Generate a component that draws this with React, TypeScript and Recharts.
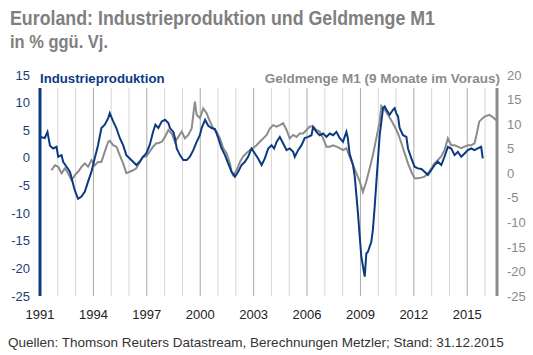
import React from "react";
import { LineChart, Line, XAxis, YAxis, ReferenceLine } from "recharts";

// Industrieproduktion, % ggü. Vj. (linke Achse) – [Jahr, Wert]
const industrieproduktion: [number, number][] = [
  [1991.0, 3.8], [1991.27, 3.6], [1991.42, 4.7], [1991.56, 2.2], [1991.74, 1.7],
  [1991.93, 2.0], [1992.02, 0.2], [1992.21, 0.5], [1992.3, -0.7], [1992.49, -1.6],
  [1992.68, -2.5], [1992.77, -3.6], [1992.92, -5.5], [1993.05, -6.7], [1993.14, -7.4],
  [1993.33, -7.0], [1993.52, -6.1], [1993.7, -4.3], [1993.89, -2.5], [1994.08, 0],
  [1994.26, 2.3], [1994.45, 5.4], [1994.64, 6.0], [1994.83, 7.2], [1994.92, 8.1],
  [1995.11, 6.6], [1995.29, 5.4], [1995.48, 3.6], [1995.67, 2.3], [1995.85, 0.5],
  [1996.04, -0.1], [1996.23, -0.7], [1996.41, -1.3], [1996.6, -0.7], [1996.79, 0.2],
  [1996.97, 0.8], [1997.16, 2.3], [1997.35, 4.7], [1997.48, 6.0], [1997.65, 5.4],
  [1997.84, 6.6], [1998.02, 6.9], [1998.21, 6.3], [1998.3, 5.4], [1998.49, 4.7],
  [1998.58, 3.6], [1998.68, 1.7], [1998.86, 0.5], [1999.05, -0.4], [1999.24, -0.4],
  [1999.42, 0.2], [1999.61, 1.4], [1999.8, 2.9], [1999.98, 4.1], [2000.08, 5.4],
  [2000.27, 6.9], [2000.45, 5.8], [2000.64, 5.4], [2000.83, 5.2], [2001.01, 3.6],
  [2001.2, 1.7], [2001.39, 0.5], [2001.57, -1.0], [2001.76, -2.5], [2001.95, -3.4],
  [2002.13, -2.5], [2002.32, -1.3], [2002.51, -0.7], [2002.69, 0.2], [2002.88, 1.7],
  [2003.07, 0.8], [2003.25, -0.1], [2003.45, -1.3], [2003.63, -0.1], [2003.82, 1.7],
  [2004.01, 2.3], [2004.15, 1.7], [2004.29, 2.9], [2004.47, 3.8], [2004.66, 2.6],
  [2004.85, 1.4], [2005.03, 1.7], [2005.22, 1.1], [2005.31, 0.2], [2005.5, 1.4],
  [2005.69, 2.3], [2005.87, 3.6], [2006.06, 3.8], [2006.25, 4.1], [2006.34, 5.6],
  [2006.53, 4.7], [2006.71, 4.1], [2006.9, 4.4], [2007.09, 3.8], [2007.28, 4.4],
  [2007.46, 4.1], [2007.65, 4.7], [2007.83, 3.6], [2008.02, 2.9], [2008.21, 4.7],
  [2008.29, 3.6], [2008.39, 0.8], [2008.58, -1.3], [2008.68, -3.4], [2008.77, -6.7],
  [2008.86, -10.0], [2008.96, -14.3], [2009.05, -17.9], [2009.24, -21.5], [2009.33, -17.3],
  [2009.42, -17.0], [2009.61, -15.2], [2009.7, -13.0], [2009.8, -8.8], [2009.89, -4.6],
  [2010.08, 4.1], [2010.27, 9.0], [2010.36, 9.3], [2010.46, 8.7], [2010.64, 7.8],
  [2010.83, 8.7], [2010.92, 9.0], [2011.01, 8.1], [2011.11, 7.5], [2011.2, 5.4],
  [2011.39, 4.1], [2011.58, 3.8], [2011.67, 1.7], [2011.86, -0.1], [2012.04, -1.6],
  [2012.23, -1.9], [2012.42, -2.0], [2012.6, -2.5], [2012.79, -3.1], [2012.98, -2.2],
  [2013.16, -1.3], [2013.35, -0.7], [2013.54, -1.3], [2013.72, 0.2], [2013.91, 2.0],
  [2014.1, 1.7], [2014.29, 0.5], [2014.47, 1.1], [2014.66, 0.2], [2014.85, 0.8],
  [2015.03, 1.4], [2015.22, 1.7], [2015.41, 1.4], [2015.59, 1.7], [2015.78, 2.0],
  [2015.87, -0.1],
];

// Geldmenge M1, 9 Monate im Voraus (rechte Achse) – [Jahr, Wert]
const geldmengeM1: [number, number][] = [
  [1991.64, 0.6], [1991.84, 1.6], [1992.02, 1.3], [1992.21, 0], [1992.4, 1.0],
  [1992.58, 0], [1992.77, -1.4], [1992.96, -0.4], [1993.14, 0.3], [1993.33, 1.3],
  [1993.52, 2.0], [1993.7, 1.3], [1993.89, 2.7], [1994.08, 1.6], [1994.26, 2.3],
  [1994.45, 2.3], [1994.64, 4.4], [1994.83, 6.4], [1994.92, 6.6], [1995.11, 5.7],
  [1995.29, 5.4], [1995.48, 3.7], [1995.67, 2.0], [1995.85, 0], [1996.04, 0.3],
  [1996.23, 0.6], [1996.41, 1.0], [1996.6, 2.3], [1996.79, 3.4], [1996.97, 3.4],
  [1997.16, 4.4], [1997.35, 5.4], [1997.53, 6.1], [1997.65, 6.1], [1997.84, 6.4],
  [1998.02, 7.4], [1998.21, 8.8], [1998.4, 8.1], [1998.58, 6.4], [1998.77, 7.4],
  [1998.96, 8.5], [1999.14, 7.1], [1999.33, 7.8], [1999.52, 9.1], [1999.61, 11.9],
  [1999.7, 14.6], [1999.8, 11.9], [1999.98, 11.2], [2000.17, 13.2], [2000.36, 12.2],
  [2000.55, 10.5], [2000.73, 9.1], [2000.92, 8.4], [2001.11, 7.1], [2001.29, 5.1],
  [2001.48, 4.1], [2001.67, 2.0], [2001.76, 0.3], [2001.85, -0.4], [2002.04, 0.6],
  [2002.23, 2.3], [2002.41, 3.4], [2002.6, 4.1], [2002.79, 4.7], [2002.97, 5.1],
  [2003.16, 5.7], [2003.35, 6.4], [2003.54, 7.1], [2003.73, 7.8], [2003.91, 9.1],
  [2004.1, 9.8], [2004.29, 9.5], [2004.47, 9.8], [2004.66, 10.2], [2004.85, 8.8],
  [2005.03, 7.1], [2005.22, 7.8], [2005.41, 7.4], [2005.59, 8.1], [2005.78, 8.1],
  [2005.97, 8.8], [2006.15, 9.5], [2006.34, 9.5], [2006.53, 8.8], [2006.71, 8.5],
  [2006.9, 7.1], [2007.09, 5.4], [2007.28, 5.4], [2007.46, 5.7], [2007.65, 5.4],
  [2007.83, 5.1], [2008.02, 4.7], [2008.21, 5.1], [2008.39, 3.4], [2008.58, 1.7],
  [2008.77, 0], [2008.96, -1.7], [2009.14, -3.8], [2009.33, -1.7], [2009.52, 1.0],
  [2009.7, 3.7], [2009.89, 7.1], [2010.08, 10.5], [2010.17, 13.7], [2010.36, 13.0],
  [2010.54, 11.9], [2010.73, 10.8], [2010.92, 9.5], [2011.11, 8.1], [2011.3, 6.1],
  [2011.48, 4.1], [2011.67, 2.0], [2011.86, 0.3], [2012.04, -1.0], [2012.23, -1.0],
  [2012.42, -0.9], [2012.6, -0.7], [2012.79, 0], [2012.98, 1.0], [2013.16, 2.0],
  [2013.35, 2.7], [2013.54, 3.4], [2013.72, 4.7], [2013.91, 7.1], [2014.1, 5.7],
  [2014.29, 5.7], [2014.47, 5.4], [2014.66, 5.1], [2014.85, 5.4], [2015.03, 5.7],
  [2015.22, 5.7], [2015.41, 6.1], [2015.56, 8.5], [2015.67, 10.5], [2015.95, 11.5],
  [2016.23, 11.9], [2016.41, 11.5], [2016.63, 10.8],
];

const xTicks = [1991, 1994, 1997, 2000, 2003, 2006, 2009, 2012, 2015];
const leftTicks = [-25, -20, -15, -10, -5, 0, 5, 10, 15];
const rightTicks = [-25, -20, -15, -10, -5, 0, 5, 10, 15, 20];
const gridYears = [
  1992, 1993, 1994, 1995, 1996, 1997, 1998, 1999, 2000, 2001, 2002, 2003, 2004,
  2005, 2006, 2007, 2008, 2009, 2010, 2011, 2012, 2013, 2014, 2015, 2016,
];

const X_MIN = 1991;
const X_MAX = 2016.67;
const LINE_TOP = 12.65; // grid lines start just below the legend labels

const BLUE = "#0b3a82";
const GRAY = "#8c8c8c";
const TITLE_GRAY = "#7f7f7f";

function buildData() {
  const rows = new Map<number, { t: number; ip?: number; m1?: number }>();
  for (const [t, v] of industrieproduktion) {
    rows.set(t, { ...(rows.get(t) || { t }), ip: v });
  }
  for (const [t, v] of geldmengeM1) {
    rows.set(t, { ...(rows.get(t) || { t }), m1: v });
  }
  return Array.from(rows.values()).sort((a, b) => a.t - b.t);
}

const data = buildData();
const font = "'Liberation Sans', Arial, sans-serif";

export default function App() {
  return (
    <div
      style={{
        position: "absolute",
        left: 0,
        top: 0,
        width: 533,
        height: 355,
        background: "#fff",
        fontFamily: font,
      }}
    >
      {/* condensed title, squeezed to the reference width */}
      <svg width={533} height={60} style={{ position: "absolute", left: 0, top: 0 }}>
        <text
          x={10}
          y={25}
          fontFamily={font}
          fontWeight="bold"
          fontSize={21}
          fill={TITLE_GRAY}
          textLength={425}
          lengthAdjust="spacingAndGlyphs"
        >
          Euroland: Industrieproduktion und Geldmenge M1
        </text>
        <text
          x={10}
          y={48}
          fontFamily={font}
          fontWeight="bold"
          fontSize={18}
          fill={TITLE_GRAY}
          textLength={98}
          lengthAdjust="spacingAndGlyphs"
        >
          in % ggü. Vj.
        </text>
      </svg>

      <LineChart
        width={533}
        height={355}
        data={data}
        margin={{ top: 75, right: 0, bottom: 0, left: 0 }}
        style={{ position: "absolute", left: 0, top: 0 }}
      >
        <XAxis
          dataKey="t"
          type="number"
          domain={[X_MIN, X_MAX]}
          ticks={xTicks}
          tickFormatter={(v) => String(v)}
          axisLine={false}
          tickLine={false}
          tickSize={0}
          tickMargin={14}
          height={59}
          allowDataOverflow
          tick={{ fill: "#222", fontSize: 13, fontFamily: font }}
        />
        <YAxis
          yAxisId="l"
          domain={[-25, 15]}
          ticks={leftTicks}
          axisLine={false}
          tickLine={false}
          tickSize={0}
          tickMargin={10}
          width={40}
          tick={{ fill: "#1f3d7a", fontSize: 13, fontFamily: font }}
        />
        <YAxis
          yAxisId="r"
          orientation="right"
          domain={[-25, 20]}
          ticks={rightTicks}
          axisLine={false}
          tickLine={false}
          tickSize={0}
          tickMargin={10}
          width={36}
          tick={{ fill: "#8a8a8a", fontSize: 13, fontFamily: font, textAnchor: "start" }}
        />
        {gridYears.map((yr) => (
          <ReferenceLine
            key={yr}
            yAxisId="l"
            segment={[
              { x: yr, y: LINE_TOP },
              { x: yr, y: -25 },
            ]}
            stroke={(yr - 1991) % 3 === 0 ? "#a8a8a8" : "#d6d6d6"}
            strokeWidth={1}
          />
        ))}
        <ReferenceLine
          yAxisId="l"
          segment={[
            { x: X_MIN, y: LINE_TOP },
            { x: X_MIN, y: -25 },
          ]}
          stroke={BLUE}
          strokeWidth={3}
        />
        <ReferenceLine
          yAxisId="l"
          segment={[
            { x: X_MAX, y: LINE_TOP },
            { x: X_MAX, y: -25 },
          ]}
          stroke={GRAY}
          strokeWidth={3}
        />
        <Line
          yAxisId="r"
          dataKey="m1"
          type="linear"
          stroke={GRAY}
          strokeWidth={2}
          dot={false}
          connectNulls
          isAnimationActive={false}
        />
        <Line
          yAxisId="l"
          dataKey="ip"
          type="linear"
          stroke={BLUE}
          strokeWidth={2}
          dot={false}
          connectNulls
          isAnimationActive={false}
        />
      </LineChart>

      <div
        style={{
          position: "absolute",
          left: 40,
          top: 71,
          fontWeight: "bold",
          fontSize: 13.2,
          color: BLUE,
          whiteSpace: "nowrap",
        }}
      >
        Industrieproduktion
      </div>
      <div
        style={{
          position: "absolute",
          right: 33,
          top: 71,
          fontWeight: "bold",
          fontSize: 13.5,
          color: GRAY,
          whiteSpace: "nowrap",
        }}
      >
        Geldmenge M1 (9 Monate im Voraus)
      </div>
      <div
        style={{
          position: "absolute",
          left: 8,
          top: 335,
          fontSize: 13.5,
          color: "#333",
          whiteSpace: "nowrap",
        }}
      >
        Quellen: Thomson Reuters Datastream, Berechnungen Metzler; Stand: 31.12.2015
      </div>
    </div>
  );
}
